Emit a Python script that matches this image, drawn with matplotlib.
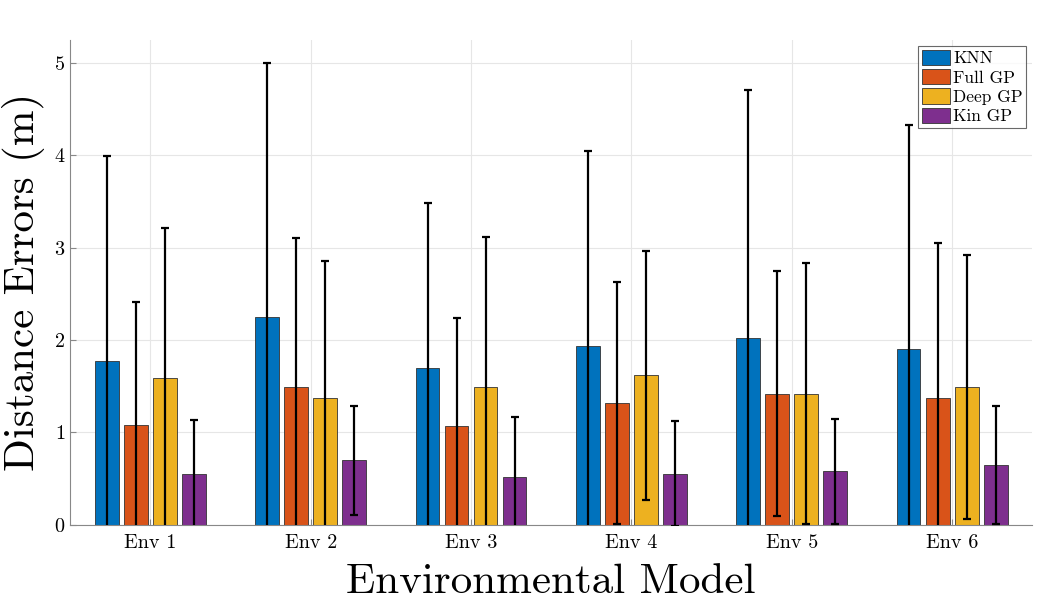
import numpy as np
import matplotlib
matplotlib.use("Agg")
import matplotlib.pyplot as plt

plt.rcParams['font.family'] = ['cmr10', 'DejaVu Serif']
plt.rcParams['axes.formatter.use_mathtext'] = True

# data (mean and std of distance errors)
envs = ["Env 1", "Env 2", "Env 3", "Env 4", "Env 5", "Env 6"]
methods = ["KNN", "Full GP", "Deep GP", "Kin GP"]
colors = ["#0072BD", "#D95319", "#EDB120", "#7E2F8E"]

knn_mean = [1.77, 2.25, 1.70, 1.94, 2.02, 1.90]
fullgp_mean = [1.08, 1.49, 1.07, 1.32, 1.42, 1.37]
deepgp_mean = [1.59, 1.37, 1.49, 1.62, 1.42, 1.49]
kingp_mean = [0.55, 0.70, 0.52, 0.555, 0.58, 0.65]

knn_std = [2.22, 2.75, 1.79, 2.11, 2.69, 2.43]
fullgp_std = [1.33, 1.62, 1.17, 1.31, 1.33, 1.68]
deepgp_std = [1.62, 1.49, 1.63, 1.35, 1.41, 1.43]
kingp_std = [0.58, 0.59, 0.65, 0.565, 0.57, 0.64]

means = [knn_mean, fullgp_mean, deepgp_mean, kingp_mean]
stds = [knn_std, fullgp_std, deepgp_std, kingp_std]

fig = plt.figure(figsize=(10.47, 6.06), dpi=100)
ax = fig.add_axes([0.067, 0.134, 0.919, 0.800])

x = np.arange(1, len(envs) + 1)
step = 0.181
width = 0.148
for i in range(4):
    pos = x + (i - 1.5) * step
    ax.bar(pos, means[i], width, color=colors[i], edgecolor="#333333",
           linewidth=0.6, label=methods[i], zorder=2)
    ax.errorbar(pos, means[i], yerr=stds[i], fmt="none", ecolor="black",
                elinewidth=1.6, capsize=3, capthick=1.6, zorder=3)

ax.set_xlim(0.5, 6.5)
ax.set_ylim(0, 5.25)
ax.set_xticks(x)
ax.set_xticklabels(envs, fontsize=14.5)
ax.set_yticks([0, 1, 2, 3, 4, 5])
ax.tick_params(axis="y", labelsize=14.5, direction="in", length=4, color="#888888")
ax.tick_params(axis="x", direction="in", length=4, color="#888888", pad=7)
ax.grid(True, color="#e6e6e6", linewidth=0.8, zorder=0)
ax.set_axisbelow(True)

for s in ["top", "right"]:
    ax.spines[s].set_visible(False)
for s in ["left", "bottom"]:
    ax.spines[s].set_color("#888888")

ax.set_xlabel("Environmental Model", fontsize=31, labelpad=8)
ax.set_ylabel("Distance Errors (m)", fontsize=31, labelpad=6)

leg = ax.legend(loc="upper right", fontsize=12.5, frameon=True, fancybox=False,
                edgecolor="#444444", handlelength=1.6, handleheight=1.0,
                handletextpad=0.2, borderpad=0.2, labelspacing=0.15,
                borderaxespad=0.35)
leg.get_frame().set_linewidth(0.8)

fig.savefig("out.png", dpi=100)
